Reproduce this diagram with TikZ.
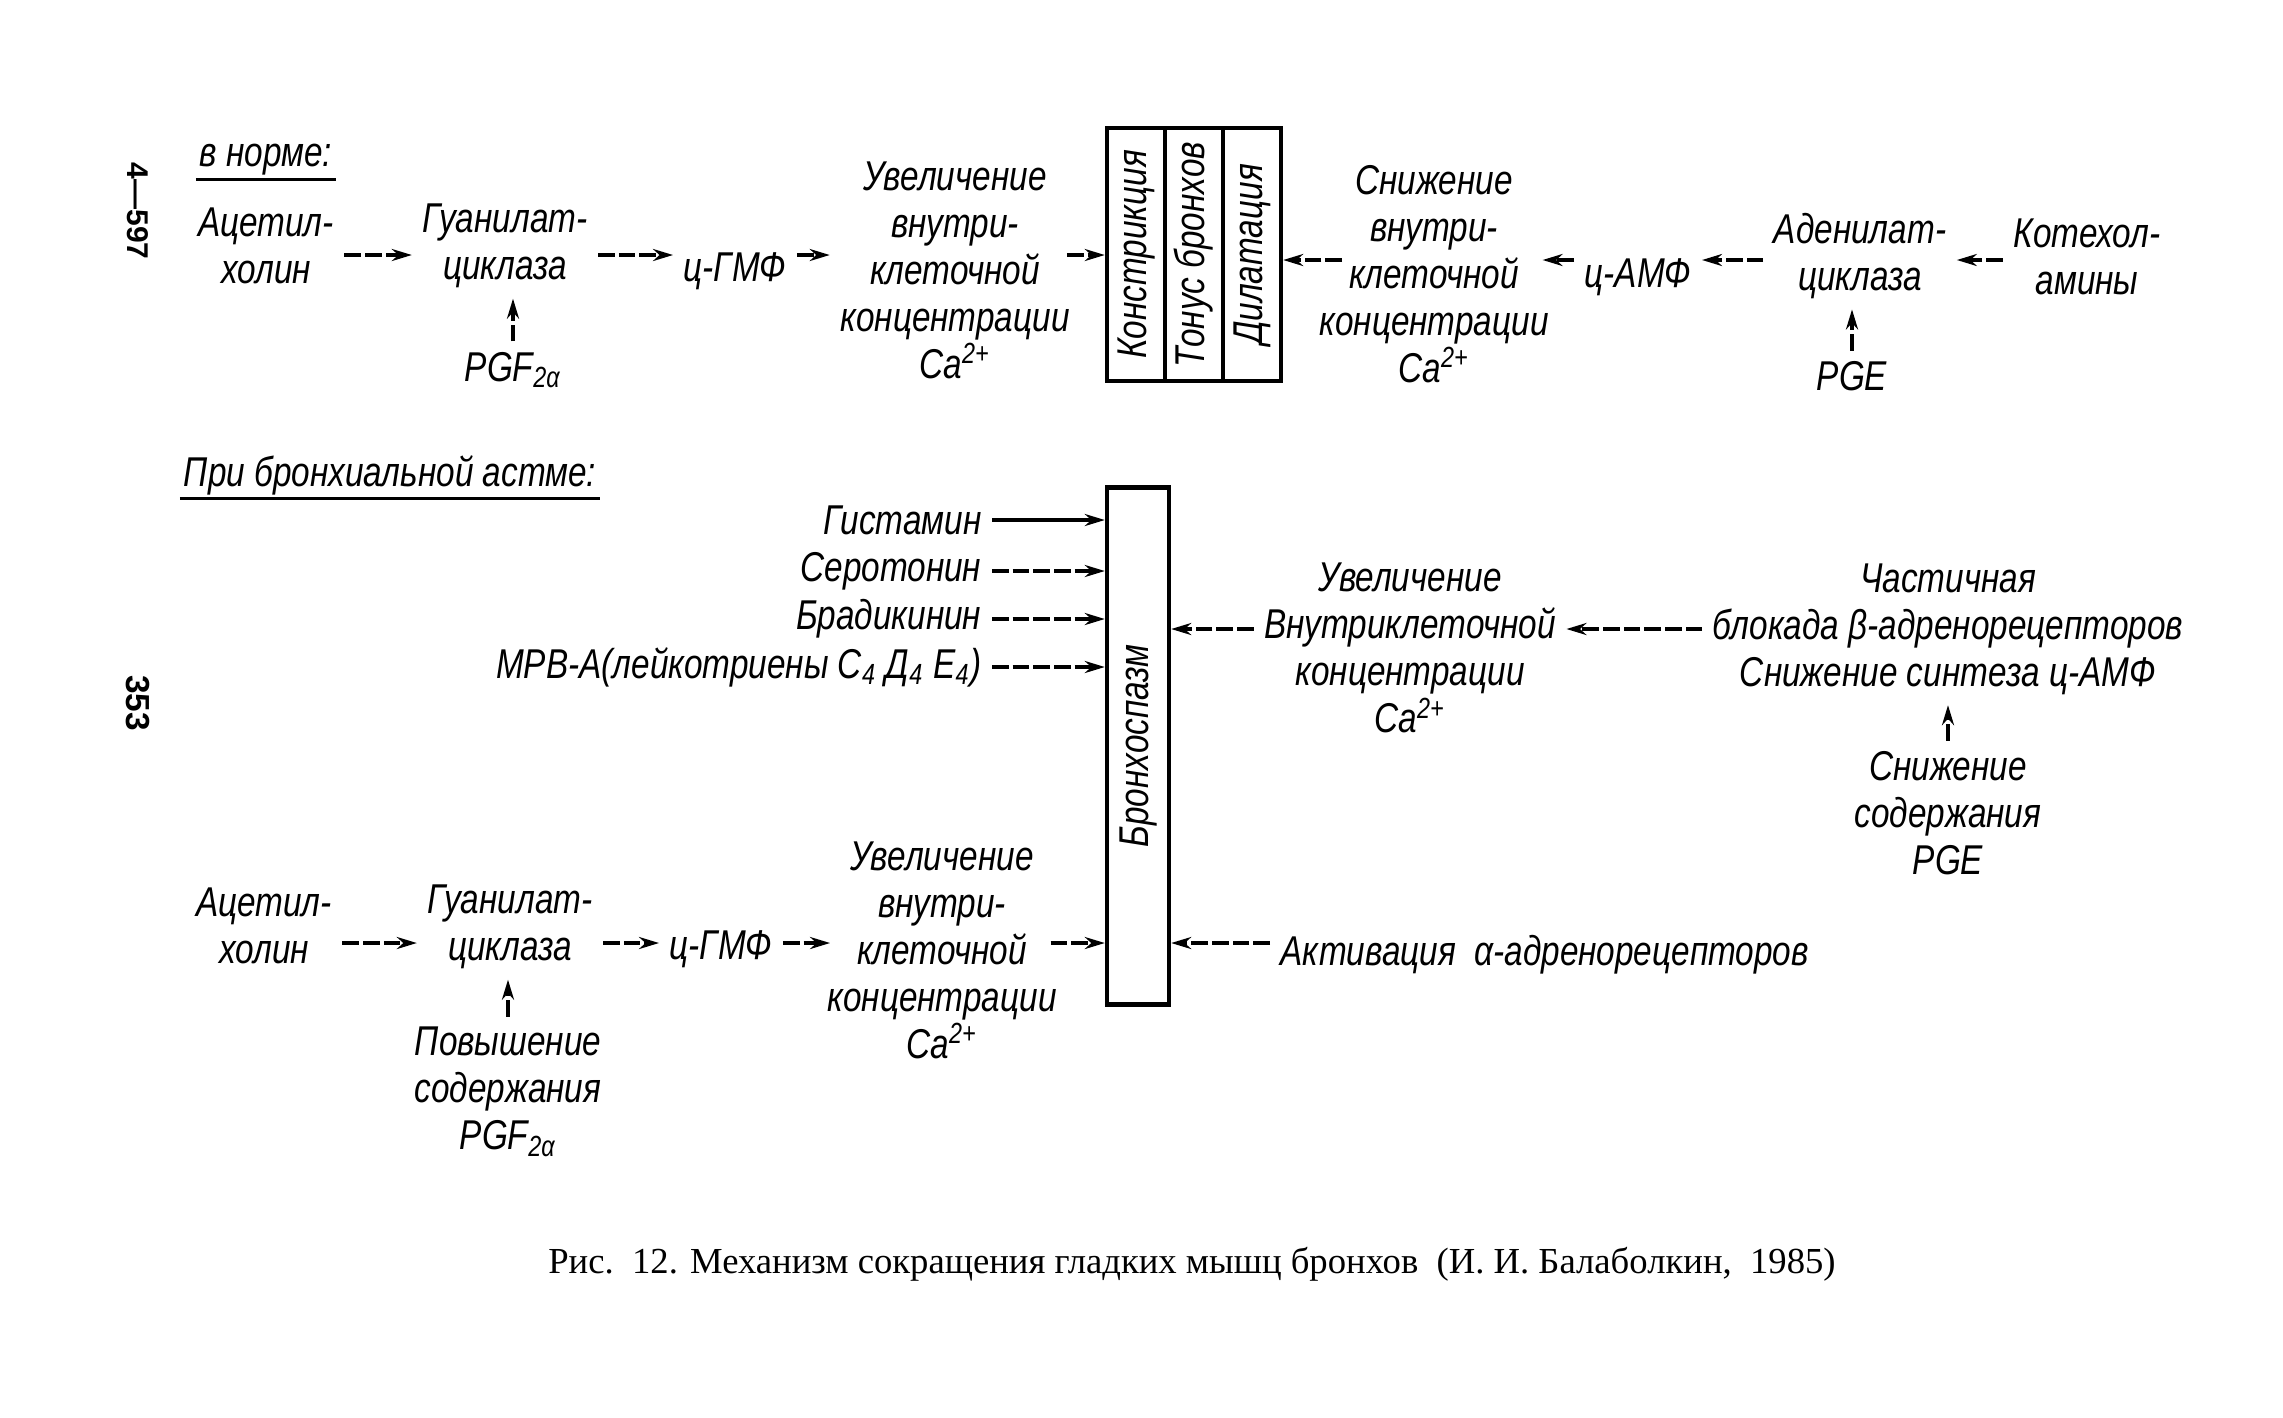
\documentclass[tikz,border=0pt]{standalone}
\usepackage{fontspec}
\setmainfont{Liberation Serif}
\newfontfamily\gost[FakeStretch=0.8]{Liberation Sans}
\newfontfamily\sidefont{Liberation Sans}
\usetikzlibrary{arrows.meta}
\begin{document}
\begin{tikzpicture}[x=0.3pt,y=-0.3pt,
  lbl/.style={font=\gost\itshape\fontsize{12.5}{14.1}\selectfont, align=center, inner sep=3pt},
  arr/.style={line width=1pt, dash pattern=on 5pt off 1.2pt, -{Stealth[length=6pt,width=3.6pt]}},
  sarr/.style={line width=1pt, -{Stealth[length=6pt,width=3.6pt]}},
  cell/.style={draw, line width=1.3pt, inner sep=0pt, minimum width=17.4pt, minimum height=75.9pt,
    font=\gost\itshape\fontsize{12.5}{14.1}\selectfont},
  uline/.style={line width=0.9pt},
]
\useasboundingbox (0,0) rectangle (2283,1417);

% side page marks
\node[font=\sidefont\bfseries\fontsize{9}{10}\selectfont, rotate=-90] (pg1) at (138,211) {4—597};
\node[font=\sidefont\bfseries\fontsize{10}{11}\selectfont, rotate=-90] (pg2) at (138,703) {353};

% row levels
\coordinate (rA) at (0,255);
\coordinate (rB) at (0,260);
\coordinate (rC) at (0,629);
\coordinate (rD) at (0,943);

% ---------------- top: normal ----------------
\node[lbl, inner sep=1pt] (norm) at (266,160) {в норме:};
\draw[uline] (norm.south west) -- (norm.south east);

\node[lbl] (acet1) at (266,246) {Ацетил-\\холин};
\node[lbl] (guan1) at (505,246) {Гуанилат-\\циклаза};
\node[lbl] (pgf1) at (513,370) {PGF\textsubscript{2α}};
\node[lbl] (cgmp1) at (735,271) {ц-ГМФ};
\node[lbl] (uvel1) at (955,270) {Увеличение\\внутри-\\клеточной\\концентрации\\Ca\textsuperscript{2+}};

\node[cell] (kon) at (1136,254.5) {\rotatebox{90}{Констрикция}};
\node[cell] (ton) at (1194,254.5) {\rotatebox{90}{Тонус бронхов}};
\node[cell] (dil) at (1252,254.5) {\rotatebox{90}{Дилатация}};

\node[lbl] (snizh1) at (1434,274) {Снижение\\внутри-\\клеточной\\концентрации\\Ca\textsuperscript{2+}};
\node[lbl] (camp) at (1638,277) {ц-АМФ};
\node[lbl] (aden) at (1860,256) {Аденилат-\\циклаза};
\node[lbl] (pge1) at (1852,376) {PGE};
\node[lbl] (kat) at (2087,257) {Котехол-\\амины};

\draw[arr] (acet1.east |- rA) -- (guan1.west |- rA);
\draw[arr] (pgf1.north) -- (pgf1.north |- guan1.south);
\draw[arr] (guan1.east |- rA) -- (cgmp1.west |- rA);
\draw[arr] (cgmp1.east |- rA) -- (uvel1.west |- rA);
\draw[arr] ([xshift=-4pt]uvel1.east |- rA) -- (kon.west |- rA);
\draw[arr] ([xshift=10pt]snizh1.west |- rB) -- (dil.east |- rB);
\draw[arr] (camp.west |- rB) -- ([xshift=-5pt]snizh1.east |- rB);
\draw[arr] (aden.west |- rB) -- (camp.east |- rB);
\draw[arr] (pge1.north) -- (pge1.north |- aden.south);
\draw[arr] (kat.west |- rB) -- (aden.east |- rB);

% ---------------- bottom: asthma ----------------
\node[lbl, inner sep=1pt] (asth) at (390,475) {При бронхиальной астме:};
\draw[uline] (asth.south west) -- (asth.south east);

\node[draw, line width=1.3pt, inner sep=0pt, minimum width=18.6pt, minimum height=155.1pt,
  font=\gost\itshape\fontsize{12.5}{14.1}\selectfont] (spasm) at (1138,746) {\rotatebox{90}{Бронхоспазм}};

\node[lbl, anchor=east] (hist) at (992,520) {Гистамин};
\node[lbl, anchor=east] (sero) at (992,571) {Серотонин};
\node[lbl, anchor=east] (brad) at (992,619) {Брадикинин};
\node[lbl, anchor=east] (mrv) at (992,667) {МРВ-А(лейкотриены C\textsubscript{4} Д\textsubscript{4} E\textsubscript{4})};

\draw[sarr] (hist.east) -- (spasm.west |- hist.east);
\draw[arr] (sero.east) -- (spasm.west |- sero.east);
\draw[arr] (brad.east) -- (spasm.west |- brad.east);
\draw[arr] (mrv.east) -- (spasm.west |- mrv.east);

\node[lbl] (uvel2) at (1410,648) {Увеличение\\Внутриклеточной\\концентрации\\Ca\textsuperscript{2+}};
\node[lbl] (blok) at (1948,629) {Частичная\\блокада β-адренорецепторов\\Снижение синтеза ц-АМФ};
\node[lbl] (snizh2) at (1948,813) {Снижение\\содержания\\PGE};

\draw[arr] (uvel2.west |- rC) -- (spasm.east |- rC);
\draw[arr] (blok.west |- rC) -- (uvel2.east |- rC);
\draw[arr] (snizh2.north) -- (snizh2.north |- blok.south);

\node[lbl] (acet2) at (264,926) {Ацетил-\\холин};
\node[lbl] (guan2) at (510,927) {Гуанилат-\\циклаза};
\node[lbl] (pov) at (508,1092) {Повышение\\содержания\\PGF\textsubscript{2α}};
\node[lbl] (cgmp2) at (721,949) {ц-ГМФ};
\node[lbl] (uvel3) at (942,950) {Увеличение\\внутри-\\клеточной\\концентрации\\Ca\textsuperscript{2+}};
\node[lbl, anchor=west] (akt) at (1270,955) {Активация\ \ α-адренорецепторов};

\draw[arr] (acet2.east |- rD) -- (guan2.west |- rD);
\draw[arr] (pov.north) -- (pov.north |- guan2.south);
\draw[arr] (guan2.east |- rD) -- (cgmp2.west |- rD);
\draw[arr] (cgmp2.east |- rD) -- ([xshift=4pt]uvel3.west |- rD);
\draw[arr] ([xshift=-5pt]uvel3.east |- rD) -- (spasm.west |- rD);
\draw[arr] (akt.west |- rD) -- (spasm.east |- rD);

% caption
\node[font=\fontsize{11}{13}\selectfont] (cap) at (1192,1264)
  {Рис.\ \ 12. Механизм сокращения гладких мышц бронхов\ \ (И. И. Балаболкин,\ \ 1985)};
\end{tikzpicture}
\end{document}
